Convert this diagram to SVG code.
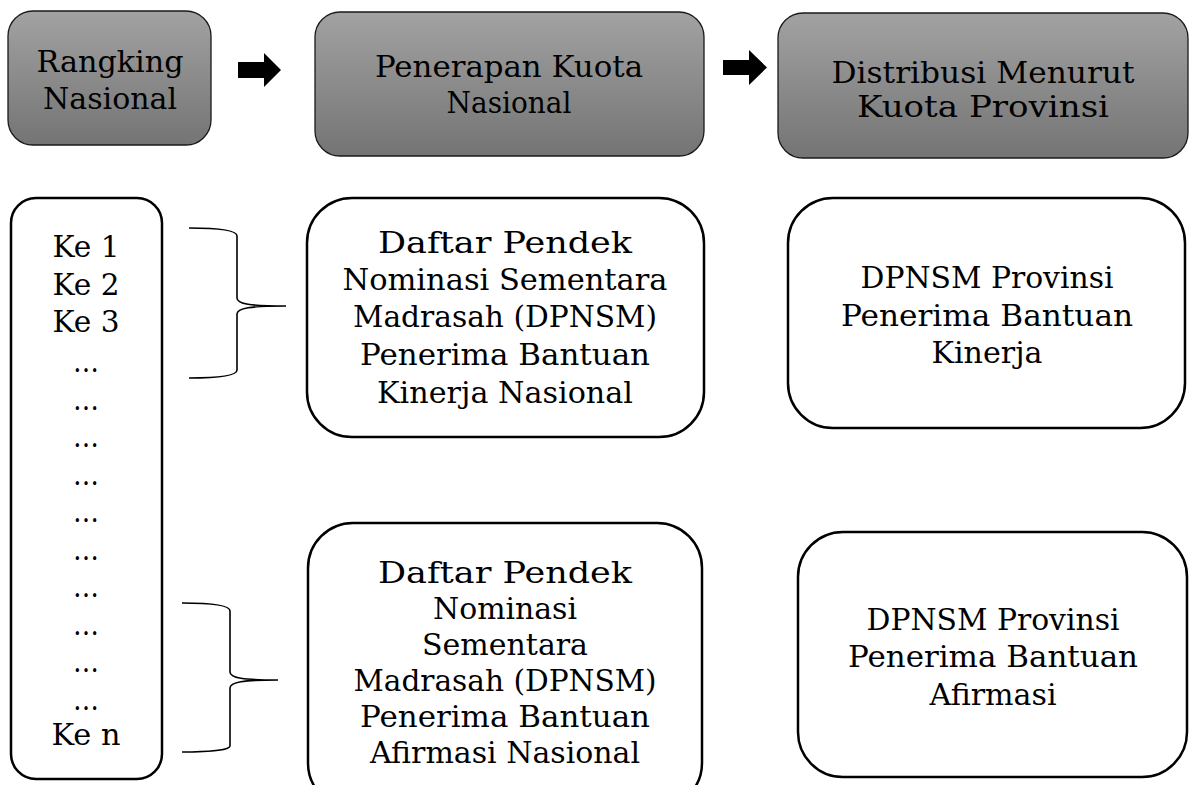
<svg xmlns="http://www.w3.org/2000/svg" width="1191" height="785" viewBox="0 0 1191 785">
<defs>
<linearGradient id="gray" x1="0" y1="0" x2="0" y2="1">
<stop offset="0" stop-color="#a2a2a2"/>
<stop offset="1" stop-color="#747474"/>
</linearGradient>
<style>
.t{font-family:"DejaVu Serif","Liberation Serif",serif;font-size:30px;fill:#000;text-anchor:middle}
.d{font-family:"DejaVu Serif","Liberation Serif",serif;font-size:30px;fill:#000;text-anchor:middle}
.head{fill:url(#gray);stroke:#1a1a1a;stroke-width:1.3}
.box{fill:#fff;stroke:#000;stroke-width:2.5}
.brace{fill:none;stroke:#000;stroke-width:1.6}
.arrow{fill:#000}
</style>
</defs>
<rect width="1191" height="785" fill="#fff"/>

<g id="node-rangking">
<rect class="head" x="8" y="11" width="203" height="134" rx="25"/>
<text class="t" x="110" y="72" textLength="147" lengthAdjust="spacingAndGlyphs">Rangking</text>
<text class="t" x="110" y="109" textLength="134" lengthAdjust="spacingAndGlyphs">Nasional</text>
</g>

<g id="node-penerapan">
<rect class="head" x="315" y="12" width="389" height="144" rx="25"/>
<text class="t" x="509" y="77" textLength="268" lengthAdjust="spacingAndGlyphs">Penerapan Kuota</text>
<text class="t" x="509" y="113" textLength="125" lengthAdjust="spacingAndGlyphs">Nasional</text>
</g>

<g id="node-distribusi">
<rect class="head" x="778" y="13" width="410" height="145" rx="25"/>
<text class="t" x="983" y="83" textLength="303" lengthAdjust="spacingAndGlyphs">Distribusi Menurut</text>
<text class="t" x="983" y="117" textLength="252" lengthAdjust="spacingAndGlyphs">Kuota Provinsi</text>
</g>

<g id="node-list">
<rect class="box" x="11" y="198" width="151" height="581" rx="25"/>
<text class="t" x="86" y="257" textLength="67" lengthAdjust="spacingAndGlyphs">Ke 1</text>
<text class="t" x="86" y="294.5" textLength="67" lengthAdjust="spacingAndGlyphs">Ke 2</text>
<text class="t" x="86" y="332" textLength="67" lengthAdjust="spacingAndGlyphs">Ke 3</text>
<text class="d" x="86" y="372" textLength="26" lengthAdjust="spacingAndGlyphs">…</text>
<text class="d" x="86" y="409.5" textLength="26" lengthAdjust="spacingAndGlyphs">…</text>
<text class="d" x="86" y="447" textLength="26" lengthAdjust="spacingAndGlyphs">…</text>
<text class="d" x="86" y="484.5" textLength="26" lengthAdjust="spacingAndGlyphs">…</text>
<text class="d" x="86" y="522" textLength="26" lengthAdjust="spacingAndGlyphs">…</text>
<text class="d" x="86" y="559.5" textLength="26" lengthAdjust="spacingAndGlyphs">…</text>
<text class="d" x="86" y="597" textLength="26" lengthAdjust="spacingAndGlyphs">…</text>
<text class="d" x="86" y="634.5" textLength="26" lengthAdjust="spacingAndGlyphs">…</text>
<text class="d" x="86" y="672" textLength="26" lengthAdjust="spacingAndGlyphs">…</text>
<text class="d" x="86" y="709.5" textLength="26" lengthAdjust="spacingAndGlyphs">…</text>
<text class="t" x="86" y="745" textLength="69" lengthAdjust="spacingAndGlyphs">Ke n</text>
</g>

<g id="node-dpnsm-kinerja-nasional">
<rect class="box" x="307" y="198" width="397" height="239" rx="45"/>
<text class="t" x="505" y="253" textLength="254" lengthAdjust="spacingAndGlyphs">Daftar Pendek</text>
<text class="t" x="505" y="290" textLength="325" lengthAdjust="spacingAndGlyphs">Nominasi Sementara</text>
<text class="t" x="505" y="327" textLength="304" lengthAdjust="spacingAndGlyphs">Madrasah (DPNSM)</text>
<text class="t" x="505" y="365" textLength="290" lengthAdjust="spacingAndGlyphs">Penerima Bantuan</text>
<text class="t" x="505" y="403" textLength="256" lengthAdjust="spacingAndGlyphs">Kinerja Nasional</text>
</g>

<g id="node-dpnsm-afirmasi-nasional">
<rect class="box" x="308" y="523" width="394" height="285" rx="45"/>
<text class="t" x="505" y="583" textLength="254" lengthAdjust="spacingAndGlyphs">Daftar Pendek</text>
<text class="t" x="505" y="619" textLength="144" lengthAdjust="spacingAndGlyphs">Nominasi</text>
<text class="t" x="505" y="655" textLength="166" lengthAdjust="spacingAndGlyphs">Sementara</text>
<text class="t" x="505" y="691" textLength="303" lengthAdjust="spacingAndGlyphs">Madrasah (DPNSM)</text>
<text class="t" x="505" y="727" textLength="290" lengthAdjust="spacingAndGlyphs">Penerima Bantuan</text>
<text class="t" x="505" y="763" textLength="270" lengthAdjust="spacingAndGlyphs">Afirmasi Nasional</text>
</g>

<g id="node-provinsi-kinerja">
<rect class="box" x="788" y="198" width="397" height="230" rx="45"/>
<text class="t" x="987" y="288" textLength="253" lengthAdjust="spacingAndGlyphs">DPNSM Provinsi</text>
<text class="t" x="987" y="326" textLength="292" lengthAdjust="spacingAndGlyphs">Penerima Bantuan</text>
<text class="t" x="987" y="363" textLength="111" lengthAdjust="spacingAndGlyphs">Kinerja</text>
</g>

<g id="node-provinsi-afirmasi">
<rect class="box" x="798" y="532" width="389" height="245" rx="45"/>
<text class="t" x="993" y="630" textLength="253" lengthAdjust="spacingAndGlyphs">DPNSM Provinsi</text>
<text class="t" x="993" y="667" textLength="290" lengthAdjust="spacingAndGlyphs">Penerima Bantuan</text>
<text class="t" x="993" y="705" textLength="127" lengthAdjust="spacingAndGlyphs">Afirmasi</text>
</g>

<g id="connectors">
<polygon class="arrow" points="238,62 264,62 264,53 281,70 264,87 264,78 238,78"/>
<polygon class="arrow" points="723,60 749,60 749,50 767,67.5 749,85 749,75 723,75"/>
<path class="brace" d="M189,228 C215,228 237,230 237,236 L237,298 C237,304 250,306 286,306 C250,306 237,308 237,314 L237,370 C237,376 215,378 189,378"/>
<path class="brace" d="M182,603 C208,603 230,605 230,611 L230,672 C230,678 243,680 278,680 C243,680 230,682 230,688 L230,746 C230,750 208,752 182,752"/>
</g>
</svg>
